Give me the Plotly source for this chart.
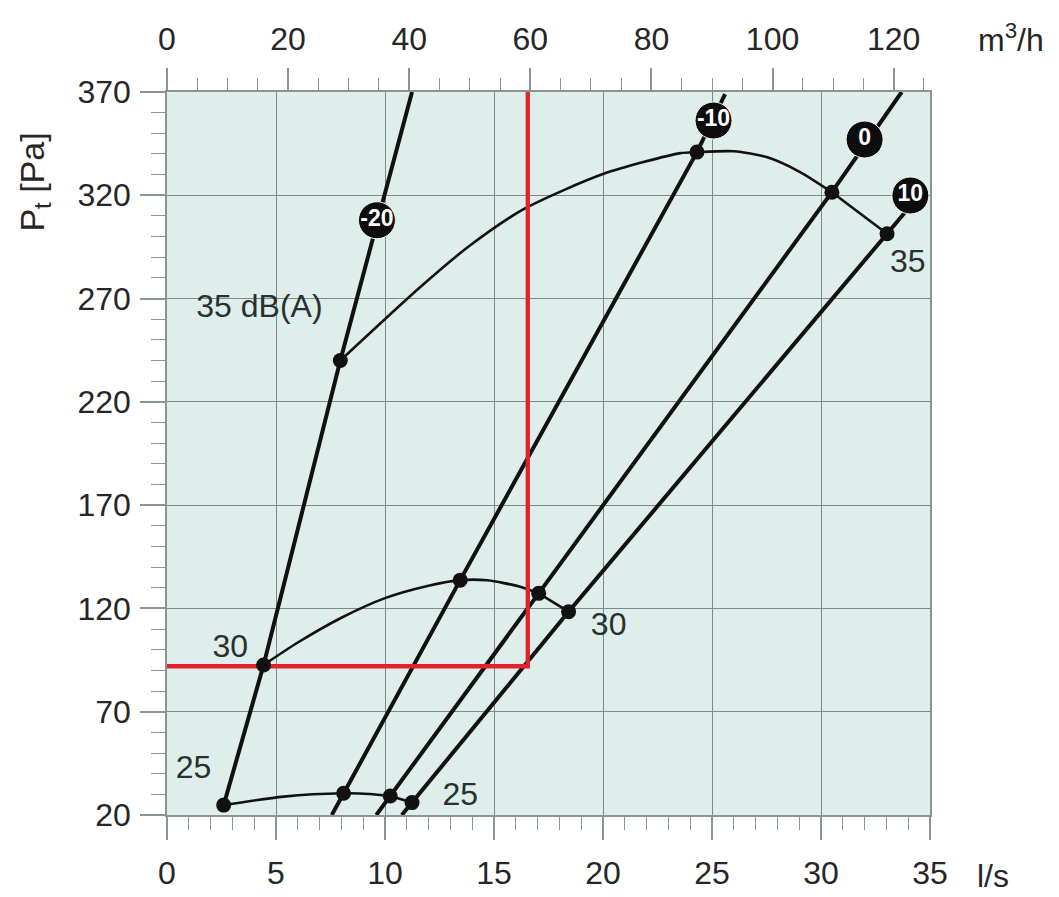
import plotly.graph_objects as go

# ---------------- data (flow in l/s, total pressure in Pa) ----------------
# damper / setting lines
m20_x = [2.60, 4.43, 7.95, 11.24]
m20_y = [24.8, 92.6, 240.0, 370.0]
m10_x = [7.56, 8.10, 13.45, 24.31, 25.60]
m10_y = [20.0, 30.5, 133.7, 340.9, 369.0]
z0_x = [9.60, 10.24, 17.05, 30.50, 33.70]
z0_y = [20.0, 29.2, 127.3, 321.5, 370.0]
p10_x = [10.77, 11.24, 18.42, 33.03, 34.55]
p10_y = [20.0, 26.0, 118.4, 301.4, 320.5]

# sound level curves (arc part, last point reached by a straight segment)
db35_x = [7.95, 11.62, 13.91, 16.4, 20.03, 23.55, 24.31, 26.0, 27.5, 29.0, 30.5, 33.03]
db35_y = [240.0, 275.6, 295.8, 313.5, 330.4, 340.4, 340.9, 341.3, 338.5, 331.5, 321.5, 301.4]
db30_x = [4.43, 6.0, 8.0, 10.0, 12.0, 13.45, 14.7, 16.2, 17.05, 18.42]
db30_y = [92.6, 103.5, 115.5, 125.0, 131.0, 133.7, 133.6, 130.5, 127.3, 118.4]
db25_x = [2.60, 5.35, 8.10, 9.3, 10.24, 11.24]
db25_y = [24.8, 28.9, 30.5, 30.2, 29.2, 26.0]

# intersection dots
dot_x = [2.60, 8.10, 10.24, 11.24, 4.43, 13.45, 17.05, 18.42, 7.95, 24.31, 30.50, 33.03]
dot_y = [24.8, 30.5, 29.2, 26.0, 92.6, 133.7, 127.3, 118.4, 240.0, 340.9, 321.5, 301.4]

# setting badges
badge_x = [9.63, 25.07, 32.0, 34.1]
badge_y = [307.9, 356.2, 347.0, 319.9]
badge_text = ["-20", "-10", "0", "10"]

# sound level labels
lvl_x = [4.24, 2.9, 1.22, 13.45, 20.26, 33.98]
lvl_y = [265.0, 100.6, 41.8, 28.9, 111.0, 286.9]
lvl_text = ["35 dB(A)", "30", "25", "25", "30", "35"]

# operating point (60 m3/h = 16.55 l/s, 92 Pa)
op_x = [-0.2, 16.55, 16.55]
op_y = [92.0, 92.0, 372.0]

# axes
ls_ticks = [0, 5, 10, 15, 20, 25, 30, 35]
m3h_ticks = [0, 20, 40, 60, 80, 100, 120]
m3h_range = [0, 126]
pa_ticks = [20, 70, 120, 170, 220, 270, 320, 370]

FONT = "Liberation Sans"
TXT = "#262626"
AX = "#8a9492"
GRID = "#7c8a88"
BG = "#deeeeb"
FS = 32

fig = go.Figure()

for xs, ys in [(m20_x, m20_y), (m10_x, m10_y), (z0_x, z0_y), (p10_x, p10_y)]:
    fig.add_trace(go.Scatter(x=xs, y=ys, mode="lines",
                             line=dict(color="#111111", width=4),
                             hoverinfo="skip", showlegend=False))

for xs, ys in [(db35_x, db35_y), (db30_x, db30_y), (db25_x, db25_y)]:
    fig.add_trace(go.Scatter(x=xs[:-1], y=ys[:-1], mode="lines",
                             line=dict(color="#111111", width=2.6, shape="spline", smoothing=0.7),
                             hoverinfo="skip", showlegend=False))
    fig.add_trace(go.Scatter(x=xs[-2:], y=ys[-2:], mode="lines",
                             line=dict(color="#111111", width=2.6),
                             hoverinfo="skip", showlegend=False))

fig.add_trace(go.Scatter(x=op_x, y=op_y, mode="lines",
                         line=dict(color="#e2222b", width=4.3),
                         hoverinfo="skip", showlegend=False))

fig.add_trace(go.Scatter(x=dot_x, y=dot_y, mode="markers",
                         marker=dict(color="#111111", size=15),
                         hoverinfo="skip", showlegend=False))

fig.add_trace(go.Scatter(x=badge_x, y=badge_y, mode="markers+text",
                         text=["<b>%s</b>" % t for t in badge_text],
                         textposition="middle center",
                         textfont=dict(family=FONT, size=23, color="white"),
                         marker=dict(color="#0d0d0d", size=37,
                                     line=dict(color="#f4f8f7", width=1)),
                         hoverinfo="skip", showlegend=False))

fig.add_trace(go.Scatter(x=lvl_x, y=lvl_y, mode="text", text=lvl_text,
                         textposition="middle center",
                         textfont=dict(family=FONT, size=FS, color="#283030"),
                         hoverinfo="skip", showlegend=False))

# invisible trace to activate top m3/h axis
fig.add_trace(go.Scatter(x=m3h_range, y=[None, None], xaxis="x2", mode="lines",
                         hoverinfo="skip", showlegend=False))

W, H = 1059, 897
L, R, T, B = 166.7, 930.0, 91.7, 815.0


def py(p):
    return (B - p) / (B - T)


def px(p):
    return (p - L) / (R - L)


fig.update_layout(
    width=W, height=H, autosize=False,
    margin=dict(l=L, r=W - R, t=T, b=H - B, pad=0, autoexpand=False),
    paper_bgcolor="white", plot_bgcolor=BG,
    font=dict(family=FONT, size=FS, color=TXT),
    xaxis=dict(range=[0, 35], tickvals=ls_ticks, ticks="outside", ticklen=23,
               tickwidth=1.5, tickcolor=AX, showline=True, linecolor=AX, linewidth=1.5,
               showgrid=True, gridcolor=GRID, gridwidth=1.4, zeroline=False,
               ticklabelstandoff=6, automargin=False,
               minor=dict(dtick=1, tick0=0, ticks="outside", ticklen=13,
                          tickcolor=AX, tickwidth=1.3, showgrid=False),
               tickfont=dict(size=FS, color=TXT, family=FONT)),
    xaxis2=dict(range=m3h_range, overlaying="x", side="top", anchor="y",
                tickvals=m3h_ticks, ticks="outside", ticklen=22, tickwidth=1.5,
                tickcolor=AX, showline=True, linecolor=AX, linewidth=1.5,
                showgrid=False, zeroline=False, ticklabelstandoff=5, automargin=False,
                minor=dict(dtick=5, tick0=0, ticks="outside", ticklen=12,
                           tickcolor=AX, tickwidth=1.3, showgrid=False),
                tickfont=dict(size=FS, color=TXT, family=FONT)),
    yaxis=dict(range=[20, 370], tickvals=pa_ticks, ticks="outside", ticklen=25,
               tickwidth=1.5, tickcolor=AX, showline=True, linecolor=AX, linewidth=1.5,
               mirror=True, showgrid=True, gridcolor=GRID, gridwidth=1.4, zeroline=False,
               ticklabelstandoff=3, automargin=False,
               minor=dict(dtick=10, tick0=20, ticks="outside", ticklen=14,
                          tickcolor=AX, tickwidth=1.3, showgrid=False),
               tickfont=dict(size=FS, color=TXT, family=FONT)),
    annotations=[
        dict(text="m<sup>3</sup>/h", xref="paper", yref="paper",
             x=px(1011), y=py(38), xanchor="center", yanchor="middle", showarrow=False,
             font=dict(size=FS, color=TXT, family=FONT)),
        dict(text="l/s", xref="paper", yref="paper",
             x=px(993), y=py(876), xanchor="center", yanchor="middle", showarrow=False,
             font=dict(size=FS, color=TXT, family=FONT)),
        dict(text="P<sub>t</sub> [Pa]", xref="paper", yref="paper",
             x=px(34), y=py(182), xanchor="center", yanchor="middle", showarrow=False,
             textangle=-90, font=dict(size=34, color=TXT, family=FONT)),
    ],
)

fig.write_html("out.html")
